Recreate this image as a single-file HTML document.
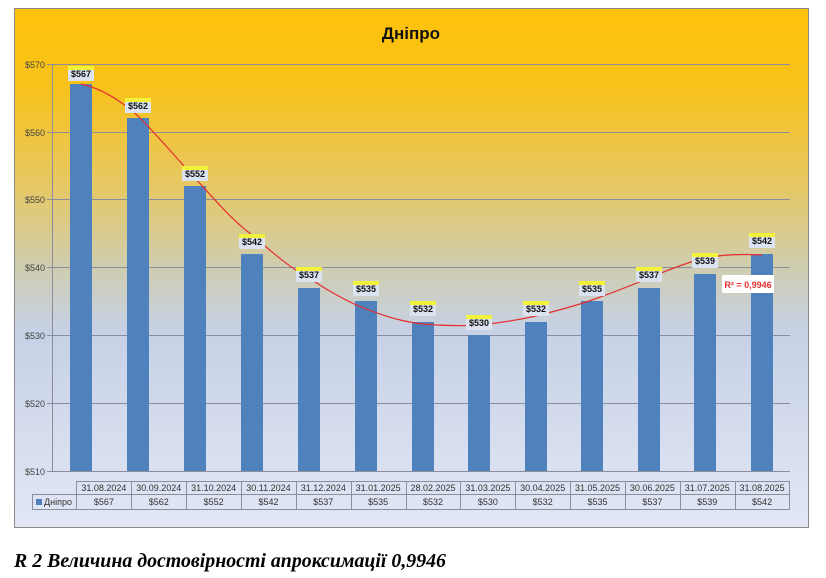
<!DOCTYPE html>
<html><head><meta charset="utf-8"><style>
html,body{margin:0;padding:0;background:#fff;width:826px;height:578px;overflow:hidden}
svg{display:block}
</style></head><body>
<svg width="826" height="578" viewBox="0 0 826 578" font-family="Liberation Sans, DejaVu Sans, sans-serif">
<defs>
<linearGradient id="bg" x1="0" y1="0" x2="0" y2="1">
<stop offset="0" stop-color="#FDC20A"/>
<stop offset="0.15" stop-color="#F8C21A"/>
<stop offset="0.35" stop-color="#E5C868"/>
<stop offset="0.5" stop-color="#CFCDB0"/>
<stop offset="0.62" stop-color="#C6D1E6"/>
<stop offset="1" stop-color="#E2E7F5"/>
</linearGradient>
</defs>
<rect x="14.5" y="8.5" width="794" height="519" fill="url(#bg)" stroke="#8a8a8a" stroke-width="1"/>
<text x="411" y="39" font-size="17" font-weight="bold" text-anchor="middle" fill="#111">Дніпро</text>
<g stroke="#8c8c9c" stroke-width="1">
<line x1="47" y1="64.5" x2="790" y2="64.5"/>
<line x1="47" y1="132.5" x2="790" y2="132.5"/>
<line x1="47" y1="199.5" x2="790" y2="199.5"/>
<line x1="47" y1="267.5" x2="790" y2="267.5"/>
<line x1="47" y1="335.5" x2="790" y2="335.5"/>
<line x1="47" y1="403.5" x2="790" y2="403.5"/>
<line x1="47" y1="471.5" x2="790" y2="471.5"/>
<line x1="52.5" y1="64" x2="52.5" y2="471"/>
</g>
<g font-size="9" fill="#444" text-anchor="end">
<text x="45" y="68">$570</text><text x="45" y="136">$560</text><text x="45" y="203">$550</text>
<text x="45" y="271">$540</text><text x="45" y="339">$530</text><text x="45" y="407">$520</text><text x="45" y="475">$510</text>
</g>
<g fill="#4F81BD">
<rect x="70" y="84" width="22" height="387"/>
<rect x="127" y="118" width="22" height="353"/>
<rect x="184" y="186" width="22" height="285"/>
<rect x="241" y="254" width="22" height="217"/>
<rect x="298" y="288" width="22" height="183"/>
<rect x="355" y="301" width="22" height="170"/>
<rect x="412" y="322" width="22" height="149"/>
<rect x="468" y="335" width="22" height="136"/>
<rect x="525" y="322" width="22" height="149"/>
<rect x="581" y="301" width="22" height="170"/>
<rect x="638" y="288" width="22" height="183"/>
<rect x="694" y="274" width="22" height="197"/>
<rect x="751" y="254" width="22" height="217"/>
</g>
<path d="M81,84 C100,88 120,100 138,116 C160,138 178,160 195,178 C215,200 232,220 252,235 C272,252 290,268 309,278 C330,292 348,302 366,309 C390,318 405,322 423,324 C445,326 462,326 479,325 C500,323 518,320 536,316 C556,311 575,306 592,300 C612,293 630,286 649,278 C668,270 688,262 705,258 C725,254 745,254 762,255" fill="none" stroke="#E53030" stroke-width="1.2"/>
<g font-size="9" font-weight="bold" fill="#111" text-anchor="middle">
<g transform="translate(81,66)"><rect x="-13" y="0" width="26" height="15" fill="#DCE3F0"/><rect x="-13" y="0" width="26" height="4" fill="#F2F23A"/><text y="11">$567</text></g>
<g transform="translate(138,98)"><rect x="-13" y="0" width="26" height="15" fill="#DCE3F0"/><rect x="-13" y="0" width="26" height="4" fill="#F2F23A"/><text y="11">$562</text></g>
<g transform="translate(195,166)"><rect x="-13" y="0" width="26" height="15" fill="#DCE3F0"/><rect x="-13" y="0" width="26" height="4" fill="#F2F23A"/><text y="11">$552</text></g>
<g transform="translate(252,234)"><rect x="-13" y="0" width="26" height="15" fill="#DCE3F0"/><rect x="-13" y="0" width="26" height="4" fill="#F2F23A"/><text y="11">$542</text></g>
<g transform="translate(309,267)"><rect x="-13" y="0" width="26" height="15" fill="#DCE3F0"/><rect x="-13" y="0" width="26" height="4" fill="#F2F23A"/><text y="11">$537</text></g>
<g transform="translate(366,281)"><rect x="-13" y="0" width="26" height="15" fill="#DCE3F0"/><rect x="-13" y="0" width="26" height="4" fill="#F2F23A"/><text y="11">$535</text></g>
<g transform="translate(423,301)"><rect x="-13" y="0" width="26" height="15" fill="#DCE3F0"/><rect x="-13" y="0" width="26" height="4" fill="#F2F23A"/><text y="11">$532</text></g>
<g transform="translate(479,315)"><rect x="-13" y="0" width="26" height="15" fill="#DCE3F0"/><rect x="-13" y="0" width="26" height="4" fill="#F2F23A"/><text y="11">$530</text></g>
<g transform="translate(536,301)"><rect x="-13" y="0" width="26" height="15" fill="#DCE3F0"/><rect x="-13" y="0" width="26" height="4" fill="#F2F23A"/><text y="11">$532</text></g>
<g transform="translate(592,281)"><rect x="-13" y="0" width="26" height="15" fill="#DCE3F0"/><rect x="-13" y="0" width="26" height="4" fill="#F2F23A"/><text y="11">$535</text></g>
<g transform="translate(649,267)"><rect x="-13" y="0" width="26" height="15" fill="#DCE3F0"/><rect x="-13" y="0" width="26" height="4" fill="#F2F23A"/><text y="11">$537</text></g>
<g transform="translate(705,253)"><rect x="-13" y="0" width="26" height="15" fill="#DCE3F0"/><rect x="-13" y="0" width="26" height="4" fill="#F2F23A"/><text y="11">$539</text></g>
<g transform="translate(762,233)"><rect x="-13" y="0" width="26" height="15" fill="#DCE3F0"/><rect x="-13" y="0" width="26" height="4" fill="#F2F23A"/><text y="11">$542</text></g>
</g>
<rect x="722" y="275" width="52" height="18" fill="#fff"/>
<text x="748" y="288" font-size="9" font-weight="bold" fill="#E53030" text-anchor="middle">R² = 0,9946</text>
<g stroke="#8a8fa0" stroke-width="1" fill="none">
<rect x="76.5" y="481.5" width="713" height="28"/>
<rect x="32.5" y="494.5" width="44" height="15"/>
<line x1="76.5" y1="494.5" x2="789.5" y2="494.5"/>
</g>
<g stroke="#8a8fa0" stroke-width="1" id="cols"></g>
<g font-size="9" fill="#333" text-anchor="middle" id="tt"></g>
<rect x="36" y="499" width="6" height="6" fill="#4F81BD"/>
<text x="44" y="505" font-size="9" fill="#333">Дніпро</text>
<text x="14" y="567" font-family="Liberation Serif, serif" font-size="20" font-weight="bold" font-style="italic" fill="#000" textLength="432" lengthAdjust="spacingAndGlyphs">R 2 Величина достовірності апроксимації 0,9946</text>
<script>
var d=["31.08.2024","30.09.2024","31.10.2024","30.11.2024","31.12.2024","31.01.2025","28.02.2025","31.03.2025","30.04.2025","31.05.2025","30.06.2025","31.07.2025","31.08.2025"];
var v=[567,562,552,542,537,535,532,530,532,535,537,539,542];
var ns="http://www.w3.org/2000/svg",c=document.getElementById("cols"),t=document.getElementById("tt");
var w=713/13;
for(var i=0;i<13;i++){var x=76.5+i*w;
if(i>0){var l=document.createElementNS(ns,"line");l.setAttribute("x1",Math.round(x)+.5);l.setAttribute("x2",Math.round(x)+.5);l.setAttribute("y1",481.5);l.setAttribute("y2",509.5);c.appendChild(l);}
var a=document.createElementNS(ns,"text");a.setAttribute("x",x+w/2);a.setAttribute("y",491);a.textContent=d[i];t.appendChild(a);
var b=document.createElementNS(ns,"text");b.setAttribute("x",x+w/2);b.setAttribute("y",505);b.textContent="$"+v[i];t.appendChild(b);}
</script>
</svg>
</body></html>
